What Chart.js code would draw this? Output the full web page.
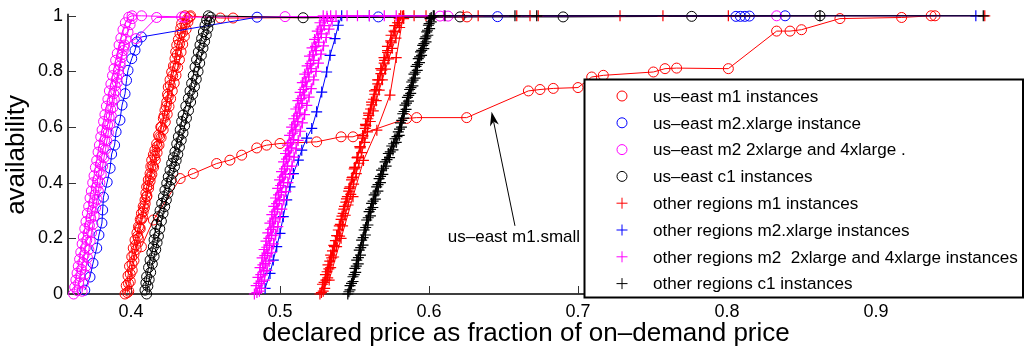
<!DOCTYPE html>
<html>
<head>
<meta charset="utf-8">
<script src="https://cdn.jsdelivr.net/npm/chart.js@4.4.0/dist/chart.umd.min.js"></script>
<style>
  html, body { margin: 0; padding: 0; background: #fff; }
  #wrap { width: 1025px; height: 350px; }
</style>
</head>
<body>
<div id="wrap"><canvas id="myChart" width="1025" height="350"></canvas></div>
<script>
// axis ticks
const xTicks = [0.4, 0.5, 0.6, 0.7, 0.8, 0.9];
const yTicks = [0, 0.2, 0.4, 0.6, 0.8, 1];

// us-east m1 (three steep curves + m1.small)
const eastM1A = [[0.3960,0.000],[0.3968,0.030],[0.3980,0.065],[0.3990,0.100],[0.4005,0.134],[0.4015,0.165],[0.4027,0.194],[0.4040,0.220],[0.4050,0.242],[0.4062,0.268],[0.4070,0.290],[0.4082,0.315],[0.4094,0.338],[0.4100,0.362],[0.4105,0.385],[0.4116,0.410],[0.4128,0.433],[0.4133,0.458],[0.4139,0.481],[0.4150,0.500],[0.4160,0.517],[0.4172,0.540],[0.4185,0.571],[0.4200,0.600],[0.4217,0.631],[0.4228,0.660],[0.4240,0.690],[0.4245,0.718],[0.4250,0.744],[0.4262,0.770],[0.4273,0.798],[0.4285,0.820],[0.4295,0.846],[0.4300,0.870],[0.4307,0.894],[0.4318,0.915],[0.4329,0.936],[0.4334,0.955],[0.4340,0.972],[0.4362,1.000],[0.4600,0.992],[0.4685,0.992],[0.6255,0.996]];
const eastM1B = [[0.3985,0.010],[0.3995,0.045],[0.4008,0.085],[0.4020,0.120],[0.4035,0.160],[0.4050,0.200],[0.4062,0.235],[0.4078,0.275],[0.4090,0.310],[0.4105,0.350],[0.4118,0.390],[0.4130,0.420],[0.4145,0.460],[0.4160,0.495],[0.4176,0.530],[0.4192,0.565],[0.4205,0.600],[0.4222,0.640],[0.4236,0.675],[0.4250,0.710],[0.4264,0.750],[0.4280,0.785],[0.4296,0.820],[0.4310,0.860],[0.4326,0.900],[0.4345,0.940],[0.4362,0.970],[0.4380,0.990],[0.4400,1.000]];
const eastM1C = [[0.3975,0.005],[0.3983,0.038],[0.3995,0.072],[0.4007,0.108],[0.4020,0.142],[0.4032,0.176],[0.4045,0.208],[0.4057,0.238],[0.4070,0.268],[0.4082,0.296],[0.4095,0.325],[0.4107,0.352],[0.4118,0.380],[0.4128,0.405],[0.4140,0.430],[0.4152,0.456],[0.4163,0.482],[0.4175,0.508],[0.4188,0.535],[0.4202,0.562],[0.4216,0.590],[0.4230,0.618],[0.4243,0.646],[0.4255,0.674],[0.4266,0.702],[0.4277,0.730],[0.4290,0.758],[0.4302,0.786],[0.4313,0.814],[0.4325,0.842],[0.4336,0.870],[0.4347,0.898],[0.4358,0.926],[0.4370,0.952],[0.4382,0.978],[0.4395,0.996]];
const eastM1Small = [[0.4070,0.170],[0.4150,0.266],[0.4330,0.415],[0.4418,0.433],[0.4575,0.469],[0.4664,0.481],[0.4743,0.499],[0.4844,0.525],[0.4910,0.535],[0.5000,0.541],[0.5246,0.547],[0.5410,0.565],[0.5490,0.565],[0.5850,0.631],[0.5917,0.634],[0.6253,0.634],[0.6667,0.730],[0.6745,0.735],[0.6834,0.739],[0.7000,0.742],[0.7092,0.780],[0.7170,0.786],[0.7506,0.798],[0.7584,0.810],[0.7662,0.812],[0.8009,0.810],[0.8333,0.945],[0.8423,0.945],[0.8500,0.950],[0.8758,0.990],[0.9172,0.994],[0.9370,1.000],[0.9396,1.000]];

// us-east m2.xlarge
const eastM2X = [[0.3690,0.014],[0.3725,0.061],[0.3745,0.111],[0.3770,0.165],[0.3785,0.212],[0.3805,0.255],[0.3810,0.302],[0.3815,0.348],[0.3840,0.402],[0.3860,0.452],[0.3870,0.503],[0.3890,0.535],[0.3900,0.583],[0.3926,0.625],[0.3940,0.679],[0.3960,0.720],[0.3970,0.768],[0.3980,0.804],[0.4005,0.846],[0.4027,0.876],[0.4040,0.906],[0.4070,0.924],[0.4846,0.995],[0.5660,0.996],[0.6460,0.997],[0.8060,0.998],[0.8090,0.998],[0.8120,0.998],[0.8150,0.999],[0.8390,1.000]];

// us-east m2 2xlarge / 4xlarge
const eastM2BigA = [[0.3615,0.000],[0.3622,0.025],[0.3630,0.050],[0.3638,0.075],[0.3646,0.100],[0.3655,0.125],[0.3663,0.150],[0.3672,0.180],[0.3680,0.205],[0.3690,0.235],[0.3698,0.260],[0.3707,0.290],[0.3716,0.315],[0.3725,0.345],[0.3734,0.370],[0.3743,0.400],[0.3752,0.425],[0.3761,0.455],[0.3770,0.480],[0.3779,0.510],[0.3788,0.535],[0.3797,0.565],[0.3806,0.590],[0.3816,0.620],[0.3825,0.645],[0.3835,0.675],[0.3845,0.700],[0.3855,0.730],[0.3865,0.755],[0.3876,0.785],[0.3886,0.810],[0.3897,0.840],[0.3908,0.865],[0.3920,0.895],[0.3932,0.920],[0.3946,0.950],[0.3962,0.975],[0.3985,0.995],[0.4007,1.000],[0.4071,1.000],[0.4340,0.996]];
const eastM2BigB = [[0.3672,0.010],[0.3681,0.040],[0.3690,0.070],[0.3699,0.100],[0.3708,0.130],[0.3717,0.160],[0.3726,0.190],[0.3735,0.220],[0.3744,0.250],[0.3753,0.280],[0.3763,0.310],[0.3772,0.340],[0.3781,0.370],[0.3791,0.400],[0.3800,0.430],[0.3810,0.460],[0.3819,0.490],[0.3829,0.520],[0.3838,0.550],[0.3848,0.580],[0.3858,0.610],[0.3868,0.640],[0.3878,0.670],[0.3888,0.700],[0.3898,0.730],[0.3908,0.760],[0.3918,0.790],[0.3928,0.820],[0.3938,0.850],[0.3948,0.875],[0.3958,0.895],[0.4034,0.918],[0.4172,0.994],[0.4360,0.995],[0.5034,0.997],[0.6074,0.999],[0.6128,0.999],[0.8333,1.000]];
const eastM2BigC = [[0.3640,0.012],[0.3649,0.038],[0.3658,0.063],[0.3667,0.088],[0.3676,0.113],[0.3685,0.140],[0.3694,0.166],[0.3703,0.193],[0.3712,0.220],[0.3721,0.247],[0.3730,0.273],[0.3739,0.300],[0.3749,0.328],[0.3758,0.356],[0.3767,0.383],[0.3776,0.410],[0.3786,0.440],[0.3795,0.468],[0.3804,0.495],[0.3814,0.523],[0.3823,0.552],[0.3833,0.580],[0.3843,0.608],[0.3853,0.636],[0.3863,0.664],[0.3873,0.692],[0.3884,0.720],[0.3894,0.748],[0.3905,0.776],[0.3916,0.804],[0.3927,0.832],[0.3939,0.860],[0.3952,0.888],[0.3966,0.915],[0.3980,0.942],[0.3994,0.968],[0.4008,0.990]];

// us-east c1
const eastC1A = [[0.4094,0.014],[0.4100,0.040],[0.4105,0.062],[0.4118,0.095],[0.4128,0.122],[0.4140,0.148],[0.4150,0.170],[0.4155,0.195],[0.4160,0.218],[0.4172,0.250],[0.4183,0.278],[0.4195,0.300],[0.4206,0.326],[0.4218,0.350],[0.4228,0.373],[0.4240,0.398],[0.4250,0.421],[0.4262,0.445],[0.4273,0.469],[0.4285,0.490],[0.4295,0.511],[0.4307,0.540],[0.4318,0.565],[0.4330,0.590],[0.4340,0.620],[0.4350,0.643],[0.4368,0.675],[0.4385,0.703],[0.4396,0.730],[0.4407,0.757],[0.4418,0.785],[0.4430,0.816],[0.4440,0.842],[0.4452,0.870],[0.4463,0.895],[0.4474,0.918],[0.4486,0.942],[0.4497,0.966],[0.4508,0.985],[0.4519,1.000],[0.5155,0.993],[0.6208,0.996],[0.6900,0.996],[0.7763,0.998],[0.8624,1.000]];
const eastC1B = [[0.4105,0.000],[0.4113,0.028],[0.4122,0.052],[0.4132,0.078],[0.4143,0.108],[0.4155,0.135],[0.4166,0.160],[0.4175,0.185],[0.4184,0.208],[0.4193,0.234],[0.4204,0.262],[0.4215,0.290],[0.4226,0.314],[0.4237,0.338],[0.4248,0.362],[0.4259,0.386],[0.4270,0.410],[0.4281,0.434],[0.4292,0.458],[0.4303,0.480],[0.4314,0.502],[0.4325,0.528],[0.4337,0.553],[0.4349,0.578],[0.4360,0.605],[0.4372,0.632],[0.4386,0.660],[0.4400,0.690],[0.4414,0.718],[0.4426,0.745],[0.4438,0.772],[0.4450,0.800],[0.4461,0.830],[0.4472,0.858],[0.4483,0.884],[0.4494,0.908],[0.4505,0.932],[0.4516,0.955],[0.4527,0.978],[0.4535,0.995]];

// other regions m1
const otherM1A = [[0.5268,0.000],[0.5285,0.035],[0.5305,0.070],[0.5322,0.105],[0.5340,0.140],[0.5361,0.175],[0.5380,0.210],[0.5398,0.245],[0.5416,0.280],[0.5433,0.315],[0.5452,0.350],[0.5470,0.385],[0.5487,0.420],[0.5503,0.455],[0.5520,0.490],[0.5538,0.525],[0.5555,0.560],[0.5572,0.595],[0.5590,0.630],[0.5608,0.665],[0.5627,0.700],[0.5645,0.735],[0.5664,0.770],[0.5683,0.805],[0.5702,0.840],[0.5722,0.875],[0.5743,0.910],[0.5765,0.945],[0.5788,0.975],[0.5810,1.000]];
const otherM1B = [[0.5290,0.010],[0.5308,0.050],[0.5328,0.090],[0.5347,0.130],[0.5366,0.170],[0.5386,0.210],[0.5405,0.250],[0.5424,0.290],[0.5442,0.330],[0.5461,0.370],[0.5480,0.410],[0.5498,0.450],[0.5517,0.490],[0.5536,0.530],[0.5555,0.570],[0.5574,0.610],[0.5594,0.650],[0.5614,0.690],[0.5634,0.730],[0.5655,0.770],[0.5676,0.810],[0.5698,0.850],[0.5721,0.890],[0.5745,0.930],[0.5770,0.965],[0.5800,0.990],[0.5830,1.000],[0.5900,1.000],[0.5980,1.000],[0.6230,1.000],[0.6330,1.000],[0.6589,1.000],[0.6678,1.000],[0.6733,1.000],[0.7282,1.000],[0.7570,1.000],[0.8009,1.000],[0.9730,1.000]];
const otherM1C = [[0.5300,0.020],[0.5320,0.058],[0.5340,0.095],[0.5360,0.133],[0.5380,0.170],[0.5400,0.208],[0.5420,0.245],[0.5438,0.283],[0.5457,0.320],[0.5475,0.358],[0.5494,0.395],[0.5512,0.433],[0.5530,0.470],[0.5549,0.508],[0.5568,0.545],[0.5587,0.583],[0.5606,0.620],[0.5626,0.658],[0.5646,0.695],[0.5666,0.733],[0.5687,0.770],[0.5708,0.808],[0.5730,0.845],[0.5753,0.883],[0.5778,0.920],[0.5803,0.958],[0.5830,0.990]];
const otherM1D = [[0.5330,0.050],[0.5410,0.200],[0.5490,0.350],[0.5560,0.480],[0.5650,0.589],[0.5738,0.715],[0.5780,0.850],[0.5827,1.000]];
const otherM1E = [[0.5278,0.005],[0.5296,0.042],[0.5316,0.080],[0.5334,0.118],[0.5352,0.155],[0.5372,0.192],[0.5391,0.230],[0.5410,0.268],[0.5428,0.305],[0.5446,0.342],[0.5465,0.380],[0.5484,0.418],[0.5502,0.455],[0.5520,0.492],[0.5539,0.530],[0.5557,0.568],[0.5576,0.605],[0.5596,0.642],[0.5616,0.680],[0.5636,0.718],[0.5656,0.755],[0.5677,0.792],[0.5699,0.830],[0.5722,0.868],[0.5746,0.905],[0.5771,0.942],[0.5797,0.975],[0.5822,0.998]];

// other regions m2.xlarge
const otherM2X = [[0.4900,0.020],[0.4933,0.074],[0.4955,0.122],[0.4978,0.170],[0.5000,0.218],[0.5022,0.278],[0.5045,0.338],[0.5067,0.385],[0.5090,0.433],[0.5123,0.481],[0.5146,0.517],[0.5179,0.560],[0.5213,0.595],[0.5246,0.655],[0.5280,0.726],[0.5313,0.798],[0.5336,0.858],[0.5369,0.918],[0.5391,0.966],[0.5414,1.000],[0.5600,1.000],[0.9670,1.000]];

// other regions m2 2xlarge / 4xlarge
const otherM2BigA = [[0.4828,0.000],[0.4840,0.030],[0.4852,0.060],[0.4866,0.095],[0.4880,0.130],[0.4893,0.160],[0.4906,0.190],[0.4918,0.220],[0.4932,0.255],[0.4945,0.285],[0.4958,0.315],[0.4970,0.345],[0.4984,0.380],[0.4997,0.410],[0.5010,0.440],[0.5024,0.475],[0.5037,0.505],[0.5050,0.535],[0.5064,0.570],[0.5078,0.600],[0.5092,0.630],[0.5106,0.665],[0.5120,0.695],[0.5135,0.725],[0.5150,0.760],[0.5166,0.790],[0.5182,0.820],[0.5198,0.855],[0.5215,0.885],[0.5232,0.915],[0.5250,0.945],[0.5268,0.975],[0.5290,1.000]];
const otherM2BigB = [[0.4862,0.010],[0.4876,0.045],[0.4890,0.080],[0.4903,0.110],[0.4917,0.145],[0.4930,0.175],[0.4944,0.210],[0.4957,0.240],[0.4970,0.270],[0.4984,0.305],[0.4997,0.335],[0.5010,0.365],[0.5024,0.400],[0.5037,0.430],[0.5050,0.460],[0.5064,0.495],[0.5078,0.525],[0.5091,0.555],[0.5105,0.590],[0.5119,0.620],[0.5133,0.650],[0.5148,0.685],[0.5163,0.715],[0.5178,0.745],[0.5194,0.780],[0.5210,0.810],[0.5226,0.840],[0.5243,0.875],[0.5260,0.905],[0.5278,0.935],[0.5297,0.965],[0.5318,0.990],[0.5340,1.000],[0.5450,1.000],[0.5520,1.000],[0.5600,1.000],[0.5700,1.000],[0.5780,1.000],[0.6100,1.000]];
const otherM2BigC = [[0.4875,0.020],[0.4895,0.050],[0.4912,0.085],[0.4928,0.118],[0.4943,0.150],[0.4957,0.180],[0.4971,0.212],[0.4985,0.242],[0.4999,0.275],[0.5012,0.305],[0.5026,0.338],[0.5039,0.368],[0.5053,0.400],[0.5066,0.430],[0.5080,0.460],[0.5094,0.492],[0.5108,0.522],[0.5122,0.552],[0.5136,0.585],[0.5150,0.615],[0.5165,0.645],[0.5180,0.678],[0.5195,0.708],[0.5210,0.738],[0.5226,0.770],[0.5242,0.800],[0.5258,0.830],[0.5275,0.862],[0.5292,0.892],[0.5310,0.922],[0.5329,0.952],[0.5350,0.980],[0.5376,1.000]];
const otherM2BigD = [[0.4845,0.005],[0.4858,0.038],[0.4871,0.070],[0.4885,0.105],[0.4898,0.138],[0.4911,0.168],[0.4925,0.200],[0.4938,0.232],[0.4951,0.262],[0.4964,0.295],[0.4977,0.325],[0.4990,0.356],[0.5004,0.390],[0.5017,0.420],[0.5030,0.450],[0.5044,0.485],[0.5057,0.515],[0.5071,0.545],[0.5085,0.578],[0.5099,0.608],[0.5113,0.640],[0.5127,0.672],[0.5142,0.702],[0.5157,0.735],[0.5172,0.765],[0.5188,0.797],[0.5204,0.828],[0.5221,0.860],[0.5238,0.890],[0.5256,0.922],[0.5275,0.952],[0.5296,0.982],[0.5315,0.998]];

// other regions c1
const otherC1A = [[0.5455,0.000],[0.5470,0.030],[0.5490,0.062],[0.5503,0.092],[0.5515,0.122],[0.5532,0.158],[0.5548,0.194],[0.5565,0.230],[0.5582,0.266],[0.5598,0.296],[0.5615,0.326],[0.5632,0.356],[0.5649,0.385],[0.5665,0.415],[0.5682,0.445],[0.5705,0.475],[0.5727,0.505],[0.5750,0.532],[0.5772,0.558],[0.5794,0.583],[0.5808,0.615],[0.5824,0.648],[0.5839,0.679],[0.5855,0.707],[0.5870,0.735],[0.5884,0.762],[0.5899,0.790],[0.5913,0.818],[0.5928,0.846],[0.5943,0.870],[0.5958,0.894],[0.5973,0.918],[0.5985,0.942],[0.5996,0.966],[0.6007,0.990],[0.6029,1.000],[0.6107,1.000],[0.6577,1.000],[0.6723,1.000],[0.8624,1.000],[0.9720,1.000]];
const otherC1B = [[0.5470,0.015],[0.5490,0.045],[0.5508,0.078],[0.5525,0.108],[0.5540,0.140],[0.5557,0.176],[0.5573,0.212],[0.5590,0.248],[0.5607,0.281],[0.5623,0.311],[0.5640,0.341],[0.5657,0.370],[0.5674,0.400],[0.5690,0.430],[0.5712,0.460],[0.5735,0.490],[0.5758,0.518],[0.5780,0.545],[0.5800,0.570],[0.5815,0.600],[0.5830,0.632],[0.5846,0.664],[0.5862,0.693],[0.5877,0.721],[0.5892,0.748],[0.5906,0.776],[0.5921,0.804],[0.5936,0.832],[0.5950,0.858],[0.5965,0.882],[0.5980,0.906],[0.5992,0.930],[0.6004,0.954],[0.6015,0.978],[0.6035,1.000]];
const otherC1C = [[0.5462,0.008],[0.5480,0.038],[0.5498,0.070],[0.5512,0.100],[0.5526,0.131],[0.5542,0.167],[0.5558,0.203],[0.5575,0.239],[0.5592,0.274],[0.5608,0.304],[0.5625,0.334],[0.5641,0.363],[0.5658,0.393],[0.5675,0.423],[0.5695,0.452],[0.5718,0.483],[0.5740,0.511],[0.5763,0.540],[0.5785,0.566],[0.5802,0.593],[0.5817,0.624],[0.5833,0.656],[0.5849,0.686],[0.5864,0.714],[0.5879,0.742],[0.5893,0.769],[0.5908,0.797],[0.5922,0.825],[0.5937,0.852],[0.5951,0.876],[0.5966,0.900],[0.5979,0.924],[0.5990,0.948],[0.6001,0.972],[0.6015,0.994]];

const groups = [
  { label: 'us\u2013east m1 instances', color: 'rgb(255,0,0)', marker: 'circle', curves: [eastM1A, eastM1B, eastM1C, eastM1Small] },
  { label: 'us\u2013east m2.xlarge instance', color: 'rgb(0,0,255)', marker: 'circle', curves: [eastM2X] },
  { label: 'us\u2013east m2 2xlarge and 4xlarge .', color: 'rgb(255,0,255)', marker: 'circle', curves: [eastM2BigA, eastM2BigB, eastM2BigC] },
  { label: 'us\u2013east c1 instances', color: 'rgb(0,0,0)', marker: 'circle', curves: [eastC1A, eastC1B] },
  { label: 'other regions m1 instances', color: 'rgb(255,0,0)', marker: 'cross', curves: [otherM1A, otherM1B, otherM1C, otherM1D, otherM1E] },
  { label: 'other regions m2.xlarge instances', color: 'rgb(0,0,255)', marker: 'cross', curves: [otherM2X] },
  { label: 'other regions m2  2xlarge and 4xlarge instances', color: 'rgb(255,0,255)', marker: 'cross', curves: [otherM2BigA, otherM2BigB, otherM2BigC, otherM2BigD] },
  { label: 'other regions c1 instances', color: 'rgb(0,0,0)', marker: 'cross', curves: [otherC1A, otherC1B, otherC1C] }
];

const noteText = 'us\u2013east m1.small';
const notePos = [0.657, 0.205];
const arrowFrom = [0.6577, 0.245];
const arrowTo = [0.642, 0.655];

const FONT = "'Liberation Sans', Arial, Helvetica, sans-serif";

const datasets = [];
var n = 0;
groups.forEach(function (g) {
  g.curves.forEach(function (c) {
    datasets.push({
      label: g.label,
      data: c.map(p => ({ x: p[0], y: p[1] })),
      showLine: true,
      borderColor: g.color,
      borderWidth: 1,
      pointStyle: g.marker,
      pointRadius: g.marker === 'cross' ? 5.5 : 5,
      pointBorderWidth: g.marker === 'cross' ? 1.2 : 1,
      pointBorderColor: g.color,
      pointBackgroundColor: 'rgba(0,0,0,0)',
      fill: false,
      clip: false,
      order: -(n++)   // later series painted on top
    });
  });
});

// axis lines, inward tick marks, annotation arrow and the boxed legend
const matlabFrame = {
  id: 'matlabFrame',
  beforeDatasetsDraw(chart) {
    const { ctx, chartArea: a, scales: { x, y } } = chart;
    ctx.save();
    ctx.strokeStyle = '#000';
    ctx.lineWidth = 1.5;
    ctx.beginPath();
    ctx.moveTo(a.left, a.top - 2);
    ctx.lineTo(a.left, a.bottom);
    ctx.lineTo(a.right, a.bottom);
    ctx.stroke();
    ctx.lineWidth = 1;
    ctx.strokeStyle = '#333';
    ctx.beginPath();
    xTicks.forEach(v => {
      const px = Math.round(x.getPixelForValue(v)) + 0.5;
      ctx.moveTo(px, a.bottom);
      ctx.lineTo(px, a.bottom - 8);
    });
    yTicks.forEach(v => {
      const py = Math.round(y.getPixelForValue(v)) + 0.5;
      ctx.moveTo(a.left, py);
      ctx.lineTo(a.left + 8, py);
    });
    ctx.stroke();
    ctx.restore();
  },
  afterDraw(chart) {
    const { ctx, scales: { x, y } } = chart;
    ctx.save();

    // arrow pointing at the m1.small curve
    const x0 = x.getPixelForValue(arrowFrom[0]), y0 = y.getPixelForValue(arrowFrom[1]);
    const x1 = x.getPixelForValue(arrowTo[0]), y1 = y.getPixelForValue(arrowTo[1]);
    const ang = Math.atan2(y1 - y0, x1 - x0);
    const c = Math.cos(ang), s = Math.sin(ang);
    ctx.strokeStyle = '#000';
    ctx.fillStyle = '#000';
    ctx.lineWidth = 1;
    ctx.beginPath();
    ctx.moveTo(x0, y0);
    ctx.lineTo(x1 - 10 * c, y1 - 10 * s);
    ctx.stroke();
    ctx.beginPath();
    ctx.moveTo(x1, y1);
    ctx.lineTo(x1 - 14 * c + 4.5 * s, y1 - 14 * s - 4.5 * c);
    ctx.lineTo(x1 - 10 * c, y1 - 10 * s);
    ctx.lineTo(x1 - 14 * c - 4.5 * s, y1 - 14 * s + 4.5 * c);
    ctx.closePath();
    ctx.fill();

    ctx.font = '17px ' + FONT;
    ctx.textAlign = 'center';
    ctx.textBaseline = 'middle';
    ctx.fillText(noteText, x.getPixelForValue(notePos[0]), y.getPixelForValue(notePos[1]));

    // legend box
    const L = 584.5, T = 79.5, R = 1023, B = 297.5;
    ctx.fillStyle = '#fff';
    ctx.fillRect(L, T, R - L, B - T);
    ctx.lineWidth = 2;
    ctx.strokeStyle = '#000';
    ctx.strokeRect(L, T, R - L, B - T);
    ctx.font = '17.1px ' + FONT;
    ctx.textAlign = 'left';
    groups.forEach(function (g, i) {
      const cy = 96 + i * 26.8;
      ctx.strokeStyle = g.color;
      ctx.lineWidth = 1;
      ctx.beginPath();
      if (g.marker === 'circle') {
        ctx.arc(622, cy, 5, 0, Math.PI * 2);
      } else {
        ctx.moveTo(616.5, cy); ctx.lineTo(627.5, cy);
        ctx.moveTo(622, cy - 5.5); ctx.lineTo(622, cy + 5.5);
      }
      ctx.stroke();
      ctx.fillStyle = '#000';
      ctx.fillText(g.label, 653, cy + 1);
    });
    ctx.restore();
  }
};

Chart.defaults.color = '#000';
Chart.defaults.font.family = FONT;

const config = {
  type: 'scatter',
  data: { datasets: datasets },
  options: {
    responsive: false,
    animation: false,
    devicePixelRatio: 1,
    layout: { padding: { top: 15, right: 41, left: 0, bottom: 0 } },
    plugins: {
      legend: { display: false },
      tooltip: { enabled: false }
    },
    scales: {
      x: {
        type: 'linear',
        min: 0.35772,
        max: 0.97248,
        afterBuildTicks: s => { s.ticks = xTicks.map(v => ({ value: v })); },
        afterFit: s => { s.height = 56; },
        grid: { display: false, drawTicks: false },
        border: { display: false },
        ticks: { autoSkip: false, maxRotation: 0, padding: 7, font: { size: 18 }, callback: v => String(v) },
        title: { display: true, text: 'declared price as fraction of on\u2013demand price', font: { size: 26 }, padding: { top: 0, bottom: 1 } }
      },
      y: {
        type: 'linear',
        min: 0,
        max: 1,
        afterBuildTicks: s => { s.ticks = yTicks.map(v => ({ value: v })); },
        afterFit: s => { s.width = 68; },
        grid: { display: false, drawTicks: false },
        border: { display: false },
        ticks: { autoSkip: false, padding: 5, font: { size: 18 }, callback: v => String(v) },
        title: { display: true, text: 'availability', font: { size: 26 }, padding: { top: 1, bottom: 0 } }
      }
    }
  },
  plugins: [matlabFrame]
};

var myChart;

window.addEventListener('load', _ => {
  const ctx = document.getElementById('myChart').getContext('2d');
  myChart = new Chart(ctx, config);
});
</script>
</body>
</html>
